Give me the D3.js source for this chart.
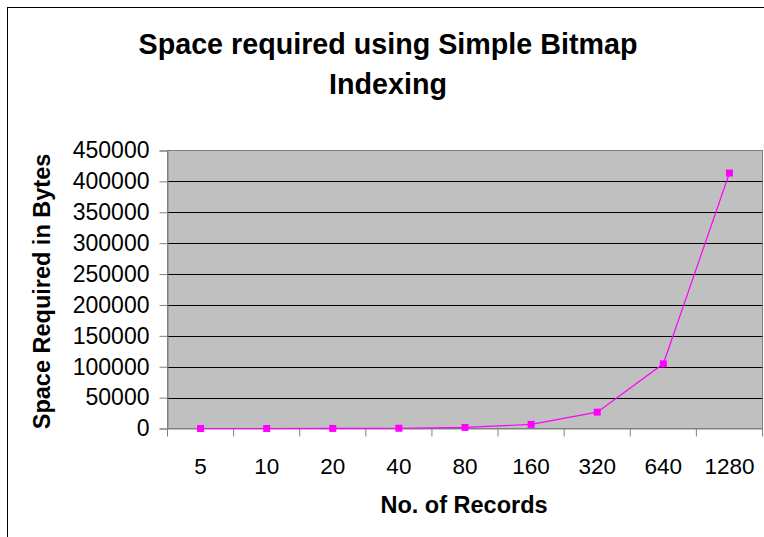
<!DOCTYPE html>
<html><head><meta charset="utf-8">
<script src="https://cdn.jsdelivr.net/npm/d3@7"></script>
<style>body{margin:0;background:#fff}svg{display:block}text{font-family:"Liberation Sans",Arial,sans-serif;fill:#000}</style>
</head><body>
<script>
const categories = ["5","10","20","40","80","160","320","640","1280"];
const values = [8, 30, 110, 420, 1700, 6600, 26500, 104700, 413500];
const yTicks = [0,50000,100000,150000,200000,250000,300000,350000,400000,450000];
const titleLines = ["Space required using Simple Bitmap","Indexing"];

const W = 764, H = 537;
const m = {left:167.5, right:762.5, top:150.5, bottom:428.5};
const svg = d3.select("body").append("svg").attr("width",W).attr("height",H);

svg.append("rect").attr("x",7.5).attr("y",7.5).attr("width",W+20).attr("height",H+20)
  .attr("fill","#fff").attr("stroke","#000").attr("stroke-width",1);

const x = d3.scaleBand().domain(categories).range([m.left,m.right]);
const y = d3.scaleLinear().domain([0,450000]).range([m.bottom,m.top]);

svg.append("rect").attr("x",m.left).attr("y",m.top).attr("width",m.right-m.left).attr("height",m.bottom-m.top)
  .attr("fill","#c0c0c0").attr("stroke","#808080").attr("stroke-width",1);

svg.append("g").selectAll("line").data(yTicks.filter(d=>d>0 && d<450000)).join("line")
  .attr("x1",m.left).attr("x2",m.right).attr("y1",d=>Math.round(y(d))+0.5).attr("y2",d=>Math.round(y(d))+0.5)
  .attr("stroke","#000").attr("stroke-width",1);

const yAxis = svg.append("g").attr("transform",`translate(${m.left},0)`)
  .call(d3.axisLeft(y).tickValues(yTicks).tickSize(8).tickPadding(10).tickFormat(d3.format("d")));
yAxis.select(".domain").attr("stroke","#808080");
yAxis.selectAll(".tick line").attr("stroke","#808080");
yAxis.selectAll("text").attr("font-size",23).style("font-family",'"Liberation Sans",Arial,sans-serif');

const xAxis = svg.append("g").attr("transform",`translate(0,${m.bottom})`)
  .call(d3.axisBottom(x).tickSize(0).tickPadding(30));
xAxis.select(".domain").attr("stroke","#808080");
xAxis.selectAll("text").attr("font-size",22.5).style("font-family",'"Liberation Sans",Arial,sans-serif');
svg.append("g").selectAll("line").data(d3.range(categories.length+1)).join("line")
  .attr("x1",i=>m.left+i*x.step()).attr("x2",i=>m.left+i*x.step())
  .attr("y1",m.bottom).attr("y2",m.bottom+8).attr("stroke","#808080");

const line = d3.line().x((d,i)=>x(categories[i])+x.bandwidth()/2).y(d=>y(d));
svg.append("path").datum(values).attr("d",line).attr("fill","none").attr("stroke","#ff00ff").attr("stroke-width",1.2);
svg.append("g").selectAll("rect").data(values).join("rect")
  .attr("x",(d,i)=>x(categories[i])+x.bandwidth()/2-3.5).attr("y",d=>y(d)-3.5)
  .attr("width",7).attr("height",7).attr("fill","#ff00ff");

svg.append("g").selectAll("text").data(titleLines).join("text")
  .attr("x",388).attr("y",(d,i)=>54+i*40).attr("text-anchor","middle")
  .attr("font-size",28.7).attr("font-weight","bold").text(d=>d);

svg.append("text").attr("transform",`translate(50,${(m.top+m.bottom)/2+2}) rotate(-90)`)
  .attr("text-anchor","middle").attr("font-size",23.5).attr("font-weight","bold").text("Space Required in Bytes");
svg.append("text").attr("x",464).attr("y",513).attr("text-anchor","middle")
  .attr("font-size",23.5).attr("font-weight","bold").text("No. of Records");
</script>
</body></html>
